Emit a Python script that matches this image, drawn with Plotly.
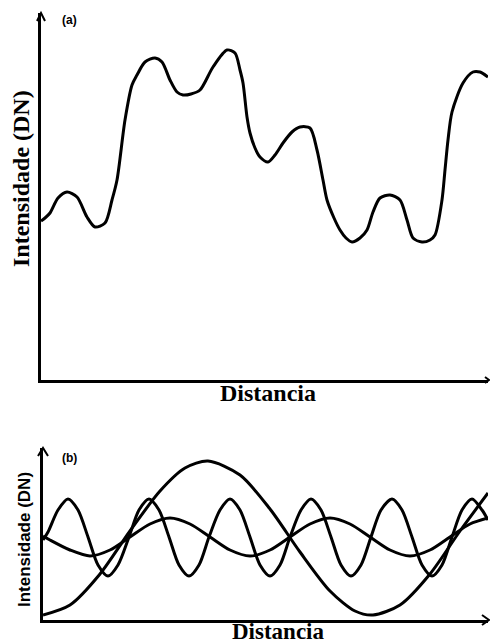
import plotly.graph_objects as go

W, H = 490, 644

# ---------------- panel (a): composite intensity profile ----------------
dist_a = [0, 4, 9, 17, 26, 36, 46, 54, 64, 71, 76, 84, 91, 96, 104, 114, 121, 129, 136, 142,
          150, 159, 172, 186, 194, 199, 202, 206, 209, 214, 219, 227, 234, 242, 251, 259, 269,
          276, 282, 286, 293, 299, 305, 311, 319, 326, 332, 339, 349, 359, 366, 372, 381, 389,
          394, 401, 404, 407, 411, 422, 432, 439, 447]
int_a = [159, 162, 167, 182, 188, 183, 163, 153, 157, 180, 200, 260, 295, 305, 318, 322, 318,
         300, 288, 285, 286, 290, 313, 330, 327, 310, 297, 263, 247, 232, 223, 218, 225, 237,
         248, 253, 252, 230, 200, 180, 162, 150, 142, 138, 142, 150, 168, 182, 185, 180, 160,
         142, 138, 140, 145, 180, 210, 240, 268, 297, 308, 308, 303]

# ---------------- panel (b): component sinusoids ----------------
dist_b_slow = [0, 27, 57, 87, 117, 142, 165, 197, 227, 257, 287, 312, 330, 357, 387, 417, 445]
int_b_slow = [5, 15, 46, 89, 129, 152, 159, 145, 111, 68, 29, 9, 5, 15, 46, 89, 127]

dist_b_mid = [0, 7, 27, 47, 67, 87, 107, 127, 147, 167, 187, 207, 227, 247, 267, 287, 307, 327,
              347, 367, 387, 407, 427, 445]
int_b_mid = [84, 80, 70, 64, 70, 83, 96, 102, 96, 83, 70, 64, 70, 83, 96, 102, 96, 83, 70, 64,
             70, 83, 96, 102]

dist_b_fast = [0, 5, 15, 25, 35, 45, 55, 65, 75, 86, 96, 106, 116, 126, 136, 146, 156, 166, 177,
               187, 197, 207, 217, 227, 237, 247, 258, 268, 278, 288, 298, 308, 318, 328, 338,
               349, 359, 369, 379, 389, 399, 409, 419, 429, 439, 445]
int_b_fast = [80, 88, 110, 121, 110, 83, 55, 44, 55, 83, 110, 121, 110, 83, 55, 44, 55, 83, 110,
              121, 110, 83, 55, 44, 55, 83, 110, 121, 110, 83, 55, 44, 55, 83, 110, 121, 110, 83,
              55, 44, 55, 83, 110, 121, 110, 100]


def px(x):
    return x / W


def py(y):
    return 1 - y / H


fig = go.Figure()
line = dict(color="black", width=3, shape="spline", smoothing=0.8)
fig.add_trace(go.Scatter(x=dist_a, y=int_a, mode="lines", line=line, xaxis="x", yaxis="y",
                         hoverinfo="skip"))
for xs, ys in [(dist_b_slow, int_b_slow), (dist_b_mid, int_b_mid), (dist_b_fast, int_b_fast)]:
    fig.add_trace(go.Scatter(x=xs, y=ys, mode="lines", line=line, xaxis="x2", yaxis="y2",
                             hoverinfo="skip"))

ax = dict(showgrid=False, zeroline=False, showticklabels=False, ticks="", showline=True,
          linecolor="black", linewidth=3, fixedrange=True)

fig.update_layout(
    width=W, height=H, margin=dict(l=0, r=0, t=0, b=0),
    paper_bgcolor="white", plot_bgcolor="white", showlegend=False,
    xaxis=dict(domain=[px(41), px(488)], range=[0, 447], anchor="y", **ax),
    yaxis=dict(domain=[py(380), py(13)], range=[0, 367], anchor="x", **ax),
    xaxis2=dict(domain=[px(43), px(488)], range=[0, 445], anchor="y2", **ax),
    yaxis2=dict(domain=[py(620), py(448)], range=[0, 172], anchor="x2", **ax),
)


def chevron(pts):
    d = "M " + " L ".join(f"{px(a)},{py(b)}" for a, b in pts)
    return dict(type="path", path=d, xref="paper", yref="paper",
                line=dict(color="black", width=2))


fig.update_layout(shapes=[
    chevron([(37, 21), (41, 13), (45, 21)]),
    chevron([(485, 377), (489, 380), (485, 383)]),
    chevron([(38, 456), (43, 448), (48, 456)]),
    chevron([(482, 615), (489, 620), (482, 625)]),
])


def label(text, x, y, family, size, angle=0):
    return dict(text=text, x=px(x), y=py(y), xref="paper", yref="paper", showarrow=False,
                xanchor="center", yanchor="middle", textangle=angle,
                font=dict(family=family, size=size, color="black"))


serif = "Liberation Serif"
fig.update_layout(annotations=[
    label("<b>(a)</b>", 69, 20, "Liberation Sans", 12),
    label("<b>(b)</b>", 69, 458, "Liberation Sans", 12),
    label("<b>Distancia</b>", 268, 393, serif, 24),
    label("<b>Distancia</b>", 278, 631, serif, 23),
    label("<b>Intensidade (DN)</b>", 21, 179, serif, 24, -90),
    label("<b>Intensidade (DN)</b>", 24, 540, "Liberation Sans Narrow, Liberation Sans", 17, -90),
])

fig.write_html("out.html", config={"displayModeBar": False},
               post_script="document.body.style.margin='0';")
